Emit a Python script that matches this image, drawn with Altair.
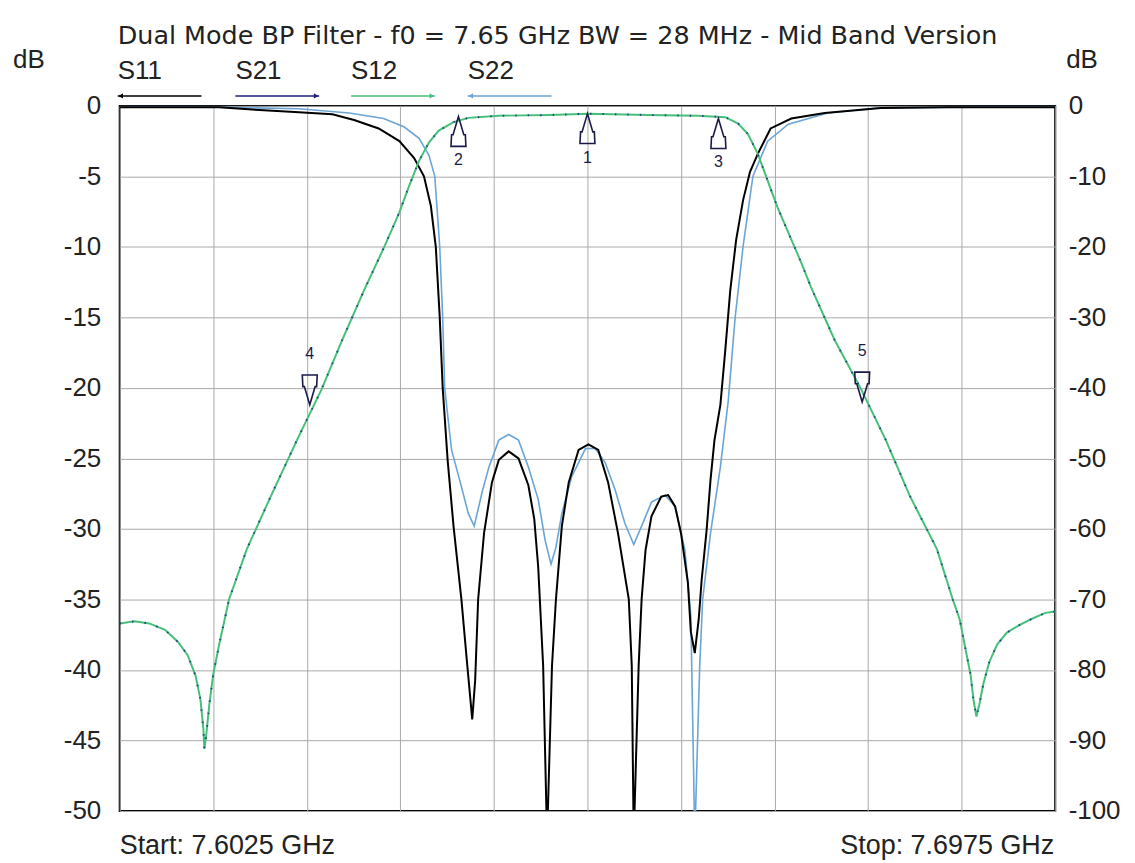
import altair as alt
import pandas as pd

# ---------------- data (frequency in MHz, level in dB) ----------------
F_START, F_STOP = 7602.5, 7697.5

s11_freq = [7602.5, 7612.6, 7616.7, 7620.7, 7624.1, 7626.3, 7628.8, 7630.9, 7632.4, 7633.4,
            7634.1, 7634.6, 7635.0, 7635.3, 7635.8, 7636.4, 7637.2, 7637.8, 7638.3, 7638.6,
            7638.9, 7639.5, 7640.3, 7641.0, 7642.0, 7643.0, 7644.0, 7644.6, 7645.0, 7645.5,
            7645.9, 7646.4, 7646.8, 7647.4, 7648.1, 7649.1, 7650.1, 7651.1, 7652.1, 7653.1,
            7654.2, 7654.5, 7654.7, 7655.2, 7655.5, 7655.9, 7656.5, 7657.5, 7658.2, 7658.9,
            7659.5, 7660.2, 7660.5, 7660.9, 7661.3, 7661.6, 7662.1, 7662.5, 7662.9, 7663.5,
            7664.0, 7664.5, 7665.1, 7665.8, 7666.5, 7667.3, 7668.6, 7670.7, 7674.1, 7679.8,
            7686.6, 7697.5]
s11_db = [-0.1, -0.1, -0.3, -0.45, -0.6, -1.0, -1.6, -2.5, -3.7, -5.0,
          -7.1, -10.0, -15.0, -20.0, -25.1, -29.8, -35.0, -39.7, -43.5, -40.7,
          -35.0, -30.3, -26.7, -25.1, -24.5, -25.0, -26.9, -29.3, -32.7, -39.7,
          -52.0, -39.7, -35.0, -29.8, -26.7, -24.4, -24.0, -24.4, -26.7, -30.3,
          -35.0, -39.7, -52.0, -39.7, -35.0, -31.5, -29.1, -27.7, -27.6, -28.4,
          -30.3, -33.8, -37.3, -38.8, -36.4, -33.6, -30.1, -26.5, -23.7, -21.2,
          -17.3, -13.1, -9.5, -6.7, -4.7, -3.4, -1.6, -0.9, -0.5, -0.15,
          -0.1, -0.1]

s22_freq = [7602.5, 7612.6, 7620.7, 7625.8, 7629.3, 7631.4, 7632.9, 7633.9, 7634.5, 7635.0,
            7635.3, 7635.5, 7636.2, 7637.2, 7637.9, 7638.5, 7639.3, 7640.0, 7641.0, 7642.0,
            7643.0, 7644.0, 7645.0, 7645.7, 7646.3, 7646.8, 7647.4, 7648.4, 7649.8, 7650.8,
            7651.8, 7652.8, 7653.8, 7654.7, 7655.5, 7656.5, 7657.9, 7658.9, 7659.9, 7660.5,
            7660.9, 7661.4, 7661.7, 7662.5, 7663.5, 7664.3, 7665.0, 7665.8, 7666.8, 7668.3,
            7670.4, 7674.4, 7679.5, 7686.6, 7697.5]
s22_db = [0.0, -0.1, -0.2, -0.5, -0.9, -1.5, -2.3, -3.5, -5.0, -10.0,
          -15.0, -20.0, -24.4, -27.0, -28.9, -29.8, -27.4, -25.6, -23.7, -23.3,
          -23.7, -25.6, -27.9, -30.8, -32.5, -31.3, -28.9, -26.3, -24.3, -24.3,
          -25.3, -27.2, -29.6, -31.1, -29.8, -28.1, -27.6, -28.4, -31.5, -36.2,
          -52.0, -39.7, -35.0, -30.3, -25.6, -20.9, -15.0, -10.0, -5.0, -2.5,
          -1.3, -0.5, -0.15, -0.1, 0.0]

s12_freq = [7602.5, 7604.0, 7605.5, 7607.1, 7608.4, 7609.4, 7610.2, 7610.7, 7611.0, 7611.1,
            7611.3, 7611.6, 7612.0, 7612.6, 7613.6, 7615.4, 7617.9, 7620.5, 7623.0, 7625.1,
            7627.3, 7629.4, 7630.9, 7631.9, 7632.9, 7633.9, 7634.9, 7636.4, 7637.9, 7641.0,
            7646.1, 7650.1, 7656.2, 7661.2, 7664.0, 7665.3, 7666.3, 7667.3, 7669.3, 7671.7,
            7672.7, 7675.1, 7677.8, 7680.3, 7682.7, 7685.5, 7687.1, 7687.8, 7688.4, 7688.9,
            7689.2, 7689.5, 7689.8, 7690.2, 7690.8, 7691.6, 7692.6, 7693.9, 7695.2, 7696.5,
            7697.5]
s12_db = [-73.4, -73.1, -73.4, -74.3, -76.0, -77.9, -80.8, -84.2, -88.4, -91.2,
          -89.1, -84.9, -80.6, -76.4, -70.0, -62.9, -55.2, -47.4, -40.2, -33.2,
          -26.2, -19.9, -15.1, -11.3, -7.8, -5.2, -3.5, -2.3, -1.7, -1.4,
          -1.3, -1.1, -1.3, -1.4, -1.6, -2.5, -4.0, -6.8, -14.4, -22.2,
          -25.7, -33.2, -40.2, -47.4, -55.2, -62.9, -70.0, -72.8, -77.1, -80.6,
          -84.2, -86.6, -84.9, -82.0, -78.9, -76.4, -74.7, -73.6, -72.7, -71.9,
          -71.7]
# S21 of this reciprocal filter reads the same as S12 on the plot
s21_db = list(s12_db)

marker_label = ["1", "2", "3", "4", "5"]
marker_freq = [7650.0, 7636.9, 7663.3, 7621.8, 7677.9]
marker_db = [-1.1, -1.5, -1.8, -42.4, -42.0]
marker_dir = ["up", "up", "up", "down", "down"]

left_ticks = [0, -5, -10, -15, -20, -25, -30, -35, -40, -45, -50]
right_ticks = [0, -10, -20, -30, -40, -50, -60, -70, -80, -90, -100]

series_names = ["S11", "S21", "S12", "S22"]
title_text = "Dual Mode BP Filter - f0 = 7.65 GHz BW = 28 MHz - Mid Band Version"
start_text = "Start: 7.6025 GHz"
stop_text = "Stop: 7.6975 GHz"

# ---------------- styling ----------------
C_S11 = "#000000"
C_S21 = "#1c1c78"
C_S12 = "#45c07a"
C_S22 = "#6aa5d6"
GRID = "#a9a9a9"
TXT = "#222222"
FONT = "Liberation Sans"

W, H = 938, 707

df11 = pd.DataFrame({"f": s11_freq, "db": s11_db})
df22 = pd.DataFrame({"f": s22_freq, "db": s22_db})
df12 = pd.DataFrame({"f": s12_freq, "db": s12_db})
df21 = pd.DataFrame({"f": s12_freq, "db": s21_db})
dfm = pd.DataFrame({"f": marker_freq, "db": marker_db, "lab": marker_label, "dir": marker_dir})

grid_vals = [F_START + (F_STOP - F_START) * i / 10 for i in range(11)]
x_scale = alt.Scale(domain=[F_START, F_STOP], nice=False, zero=False)
x_axis = alt.Axis(values=grid_vals, labels=False, ticks=False, domain=False, grid=True,
                  gridColor=GRID, gridWidth=1, gridOpacity=1, title=None)
X = alt.X("f:Q", scale=x_scale, axis=x_axis)

yl_scale = alt.Scale(domain=[-50, 0], nice=False, zero=False)
yl_axis = alt.Axis(values=left_ticks, orient="left", title=None, ticks=False, domain=False,
                   grid=True, gridColor=GRID, gridWidth=1, gridOpacity=1,
                   labelExpr="'' + datum.value",
                   labelFont=FONT, labelFontSize=26, labelColor=TXT, labelPadding=19)
YL = alt.Y("db:Q", scale=yl_scale, axis=yl_axis)

yr_scale = alt.Scale(domain=[-100, 0], nice=False, zero=False)
yr_axis = alt.Axis(values=right_ticks, orient="right", title=None, ticks=False, domain=False,
                   grid=False, labelExpr="'' + datum.value",
                   labelFont=FONT, labelFontSize=26, labelColor=TXT,
                   labelPadding=13, labelAlign="left")
YR = alt.Y("db:Q", scale=yr_scale, axis=yr_axis)

s11_line = alt.Chart(df11).mark_line(color=C_S11, strokeWidth=2, clip=True).encode(x=X, y=YL)
s22_line = alt.Chart(df22).mark_line(color=C_S22, strokeWidth=1.6, clip=True).encode(x=X, y=YL)
left = alt.layer(s22_line, s11_line)

s12_line = alt.Chart(df12).mark_line(color=C_S12, strokeWidth=2, clip=True).encode(x=X, y=YR)
s21_dots = alt.Chart(df21).mark_line(color=C_S21, strokeWidth=2, strokeDash=[1.5, 11],
                                     opacity=0.75, clip=True).encode(x=X, y=YR)

UP = "M0,-1L-0.36,0.22L-0.46,0.22L-0.5,1L0.5,1L0.46,0.22L0.36,0.22Z"
DOWN = "M0,1L-0.36,-0.22L-0.46,-0.22L-0.5,-1L0.5,-1L0.46,-0.22L0.36,-0.22Z"
mk_up = alt.Chart(dfm).transform_filter(alt.datum.dir == "up").mark_point(
    shape=UP, size=900, filled=False, stroke="#1a1a4a", strokeWidth=1.6, opacity=1, yOffset=15
).encode(x=X, y=YR)
mk_down = alt.Chart(dfm).transform_filter(alt.datum.dir == "down").mark_point(
    shape=DOWN, size=900, filled=False, stroke="#1a1a4a", strokeWidth=1.6, opacity=1, yOffset=-15
).encode(x=X, y=YR)
lab_up = alt.Chart(dfm).transform_filter(alt.datum.dir == "up").mark_text(
    font=FONT, fontSize=16, color="#1a1a4a", baseline="middle", dy=44
).encode(x=X, y=YR, text="lab:N")
lab_down = alt.Chart(dfm).transform_filter(alt.datum.dir == "down").mark_text(
    font=FONT, fontSize=16, color="#1a1a4a", baseline="middle", dy=-51
).encode(x=X, y=YR, text="lab:N")
right = alt.layer(s12_line, s21_dots, mk_up, mk_down, lab_up, lab_down)

one = pd.DataFrame({"k": [0]})


def txt(s, x, y, size, align="left", font=FONT):
    return alt.Chart(one).mark_text(
        text=s, font=font, fontSize=size, color=TXT, align=align, baseline="alphabetic"
    ).encode(x=alt.value(x), y=alt.value(y))


texts = [
    txt(title_text, -2, -62, 25.5, font="DejaVu Sans"),
    txt("dB", -107, -38, 26),
    txt("dB", 949, -38, 26),
    txt(start_text, 0, 750, 27),
    txt(stop_text, 937, 750, 27, align="right"),
]

# legend: name above an arrow; arrowhead side shows the axis used
leg_colors = [C_S11, C_S21, C_S12, C_S22]
leg_dirs = ["left", "right", "right", "left"]
leg_x0 = [-2, 116, 232, 349]
legend_layers = []
for name, col, d, x0 in zip(series_names, leg_colors, leg_dirs, leg_x0):
    legend_layers.append(txt(name, x0, -27, 26))
    legend_layers.append(
        alt.Chart(one).mark_rule(color=col, strokeWidth=1.5).encode(
            x=alt.value(x0), x2=alt.value(x0 + 84), y=alt.value(-10))
    )
    hx = x0 + 3 if d == "left" else x0 + 81
    legend_layers.append(
        alt.Chart(one).mark_point(shape="triangle-" + d, size=28, filled=True, color=col,
                                  opacity=1).encode(x=alt.value(hx), y=alt.value(-10))
    )

chart = alt.layer(left, right, *texts, *legend_layers).resolve_scale(y="independent").properties(
    width=W, height=H,
    padding={"left": 112, "top": 97, "right": 72, "bottom": 50},
    autosize=alt.AutoSizeParams(type="none"),
    background="white",
).configure_view(stroke="black", strokeWidth=2)

chart.save("out.html", embed_options={"renderer": "svg", "actions": False})
